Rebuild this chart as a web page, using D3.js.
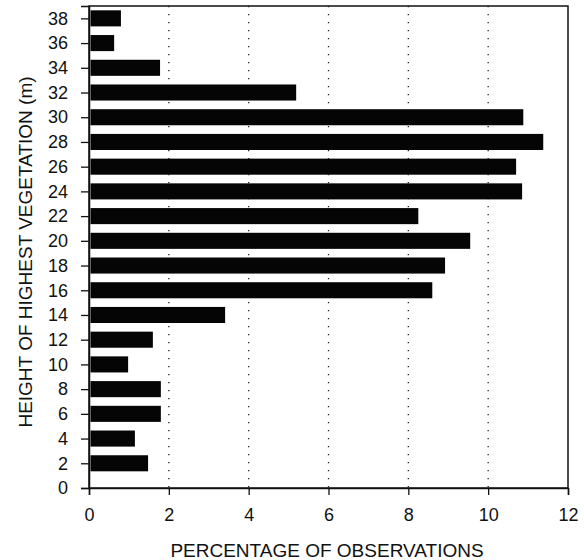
<!DOCTYPE html>
<html>
<head>
<meta charset="utf-8">
<script src="https://cdn.jsdelivr.net/npm/d3@7"></script>
<style>
body { margin: 0; background: #fff; }
text { font-family: "Liberation Sans", Arial, sans-serif; }
</style>
</head>
<body>
<script>
// heights (m) and percentage of observations
const heights = [2, 4, 6, 8, 10, 12, 14, 16, 18, 20, 22, 24, 26, 28, 30, 32, 34, 36, 38];
const percents = [1.48, 1.15, 1.8, 1.8, 0.98, 1.6, 3.41, 8.6, 8.92, 9.55, 8.25, 10.85, 10.7, 11.38, 10.88, 5.19, 1.78, 0.63, 0.8];
const xTicks = [0, 2, 4, 6, 8, 10, 12];
const yTicks = d3.range(0, 40, 2);

const W = 584, H = 560;
const margin = {left: 89, right: 16, top: 6, bottom: 72};

const svg = d3.select("body").append("svg").attr("width", W).attr("height", H);

const x = d3.scaleLinear().domain([0, 12]).range([margin.left, W - margin.right]);
const y = d3.scaleLinear().domain([0, 39]).range([H - margin.bottom, margin.top]);

// dotted grid lines
svg.append("g").selectAll("line")
    .data([2, 4, 6, 8, 10]).enter()
    .append("line")
    .attr("x1", d => x(d)).attr("x2", d => x(d))
    .attr("y1", y(39)).attr("y2", y(0))
    .attr("stroke", "#222").attr("stroke-width", 1.3)
    .attr("stroke-dasharray", "1.3,6.7");

// bars
const barH = y(0) - y(1.3);
svg.append("g").selectAll("rect")
    .data(heights).enter()
    .append("rect")
    .attr("x", x(0) + 1.5)
    .attr("y", d => y(d) - barH / 2)
    .attr("width", (d, i) => x(percents[i]) - x(0) - 1.5)
    .attr("height", barH)
    .attr("fill", "#050505");

// frame
svg.append("rect")
    .attr("x", x(0)).attr("y", y(39))
    .attr("width", x(12) - x(0)).attr("height", y(0) - y(39))
    .attr("fill", "none").attr("stroke", "#111").attr("stroke-width", 1.5);

// axes
const xAxis = svg.append("g")
    .attr("transform", "translate(0," + y(0) + ")")
    .call(d3.axisBottom(x).tickValues(xTicks).tickSize(7).tickPadding(13));
const yAxis = svg.append("g")
    .attr("transform", "translate(" + x(0) + ",0)")
    .call(d3.axisLeft(y).tickValues(yTicks).tickSize(8).tickPadding(13));

[xAxis, yAxis].forEach(g => {
    g.select(".domain").attr("stroke", "#111").attr("stroke-width", 1.5);
    g.selectAll(".tick line").attr("stroke", "#111").attr("stroke-width", 1.3);
    g.selectAll("text").attr("font-size", 18).attr("fill", "#111")
        .attr("font-family", "Liberation Sans, Arial, sans-serif");
});

// axis titles
svg.append("text")
    .attr("x", 327).attr("y", 557)
    .attr("text-anchor", "middle")
    .attr("font-size", 19).attr("fill", "#111")
    .text("PERCENTAGE OF OBSERVATIONS");

svg.append("text")
    .attr("transform", "translate(32," + 252 + ") rotate(-90)")
    .attr("text-anchor", "middle")
    .attr("font-size", 19).attr("fill", "#111")
    .text("HEIGHT OF HIGHEST VEGETATION (m)");
</script>
</body>
</html>
